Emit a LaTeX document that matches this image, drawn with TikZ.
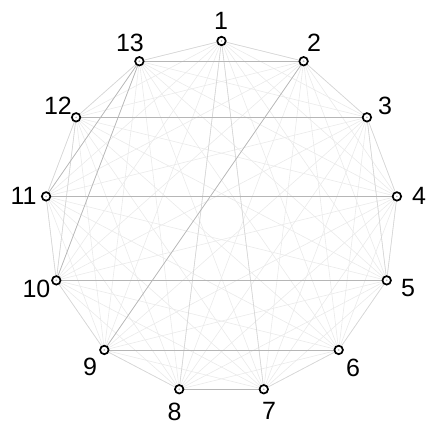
\documentclass[tikz,border=0pt]{standalone}
\usepackage{fontspec}
\setmainfont{Liberation Sans}
\usetikzlibrary{backgrounds}
\definecolor{edark}{HTML}{B6B6B6}
\definecolor{emid}{HTML}{D6D6D6}
\definecolor{elight}{HTML}{EAEAEA}
\begin{document}
\begin{tikzpicture}[x=1pt,y=-1pt,
  vtx/.style={circle,draw=black,line width=1.7pt,fill=white,minimum size=8.5pt,inner sep=0pt,
    path picture={\fill[gray!55] (path picture bounding box.center) circle (0.9pt);}},
  lab/.style={font=\fontsize{25}{25}\selectfont,inner sep=0pt,anchor=center},
  elite/.style={draw=elight,line width=0.6pt},
  emidd/.style={draw=emid,line width=0.6pt},
  edarkk/.style={draw=edark,line width=0.7pt}]
\useasboundingbox (0,0) rectangle (427,429);
\foreach \k in {1,...,13}{
  \node[vtx] (n\k) at ({221.5+176.7*cos(90-(\k-1)*360/13)},{217.7-176.7*sin(90-(\k-1)*360/13)}) {};
}
\node[lab] (l1) at (221,21) {1};
\node[lab] (l2) at (314,42.5) {2};
\node[lab] (l3) at (385,106) {3};
\node[lab] (l4) at (419,196) {4};
\node[lab] (l5) at (408,288.5) {5};
\node[lab] (l6) at (353,367.5) {6};
\node[lab] (l7) at (269,411) {7};
\node[lab] (l8) at (174.5,411.5) {8};
\node[lab] (l9) at (90,366.5) {9};
\node[lab] (l10) at (36.5,288.5) {10};
\node[lab] (l11) at (23.5,195.5) {11};
\node[lab] (l12) at (58,106) {12};
\node[lab] (l13) at (130,42.5) {13};
\begin{pgfonlayer}{background}
  \foreach \i in {1,...,12}{
    \pgfmathtruncatemacro{\jj}{\i+1}
    \foreach \j in {\jj,...,13}{
      \draw[elite] (n\i) -- (n\j);
    }
  }
  \foreach \a/\b in {1/2,2/3,3/4,4/5,5/6,6/7,7/8,8/9,9/10,10/11,11/12,12/13,13/1,1/7,1/8,12/10,3/5}{
    \draw[emidd] (n\a) -- (n\b);
  }
  \foreach \a/\b in {13/2,12/3,11/4,10/5,9/6,8/7,2/9,13/10,13/11}{
    \draw[edarkk] (n\a) -- (n\b);
  }
\end{pgfonlayer}
\end{tikzpicture}
\end{document}
